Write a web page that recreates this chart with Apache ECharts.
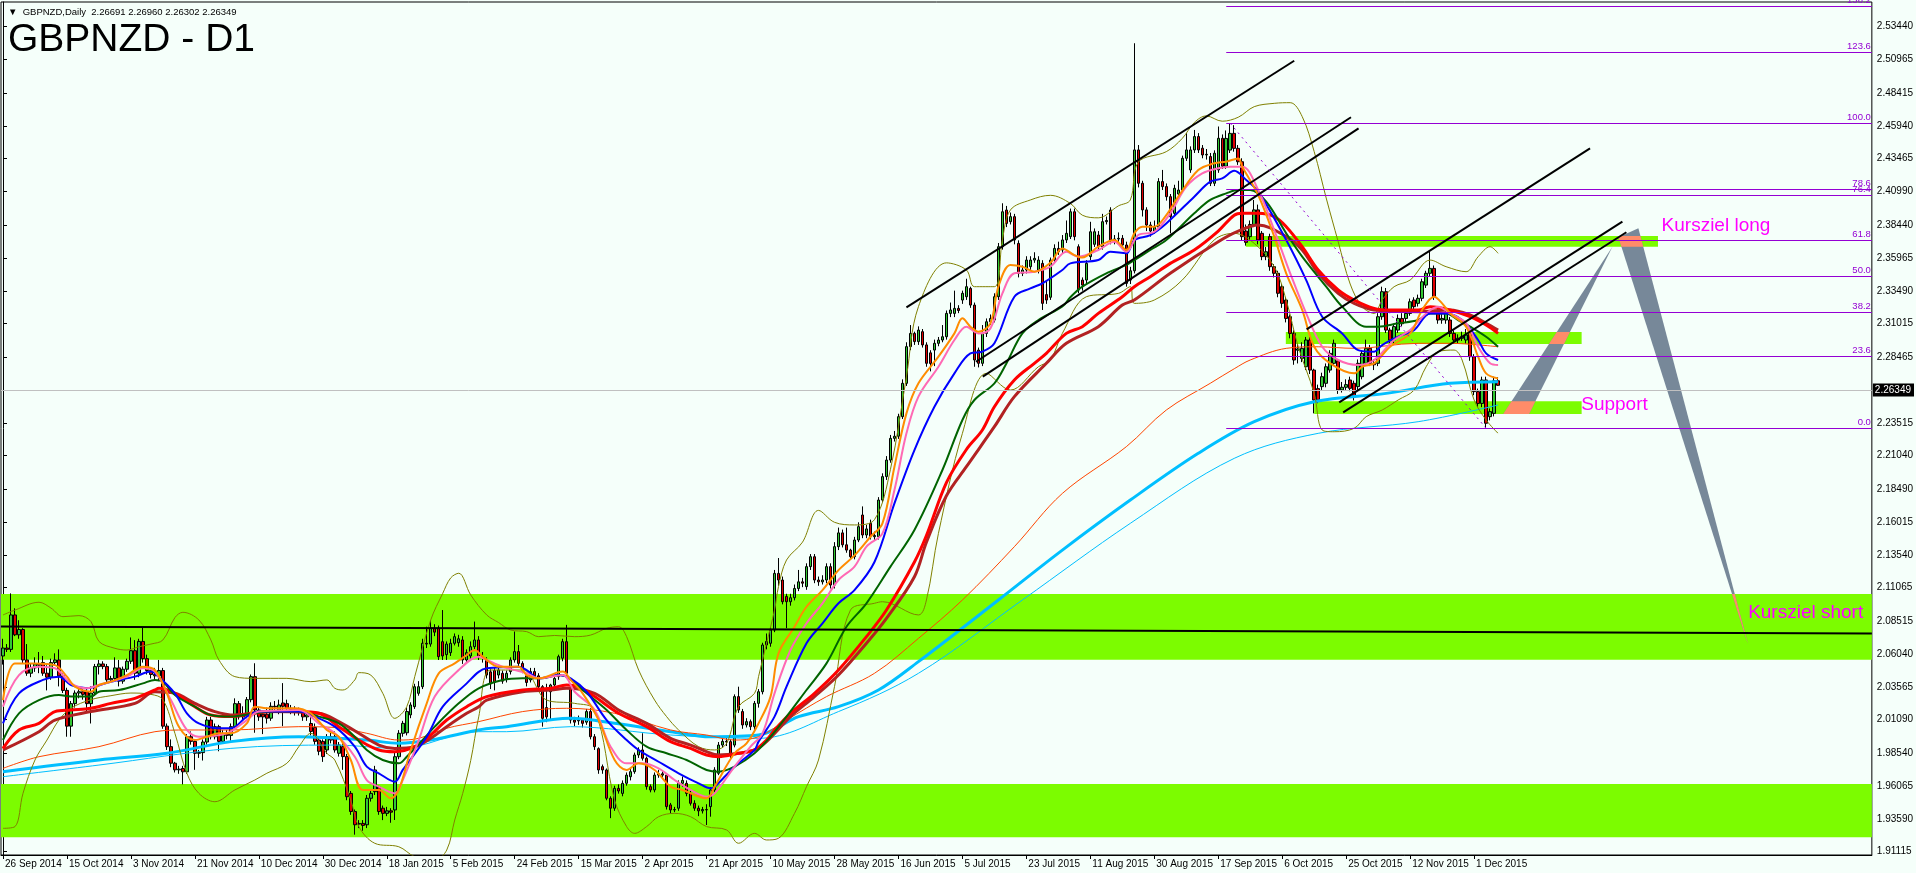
<!DOCTYPE html>
<html>
<head>
<meta charset="utf-8">
<script src="https://cdn.jsdelivr.net/npm/echarts@6/dist/echarts.min.js"></script>
<style>
html,body{margin:0;padding:0;background:#F5FFFA;}
#c{width:1916px;height:873px;}
</style>
</head>
<body>
<div id="c"></div>
<script>
// ---------- DATA ----------
const dateLabels = ['26 Sep 2014','15 Oct 2014','3 Nov 2014','21 Nov 2014','10 Dec 2014','30 Dec 2014','18 Jan 2015','5 Feb 2015','24 Feb 2015','15 Mar 2015','2 Apr 2015','21 Apr 2015','10 May 2015','28 May 2015','16 Jun 2015','5 Jul 2015','23 Jul 2015','11 Aug 2015','30 Aug 2015','17 Sep 2015','6 Oct 2015','25 Oct 2015','12 Nov 2015','1 Dec 2015'];
const barsPerLabel = 16;
const slotCount = 468;

const yTicks = [2.53440,2.50965,2.48415,2.45940,2.43465,2.40990,2.38440,2.35965,2.33490,2.31015,2.28465,2.25990,2.23515,2.21040,2.18490,2.16015,2.13540,2.11065,2.08515,2.06040,2.03565,2.01090,1.98540,1.96065,1.93590,1.91115];
const yMin = 1.90865, yMax = 2.55306;

const opens = [
2.0590,2.0650,2.0640,2.0900,2.0750,2.0790,2.0560,2.0460,2.0500,2.0530,
2.0540,2.0460,2.0430,2.0540,2.0560,2.0440,2.0330,2.0060,2.0230,2.0310,
2.0320,2.0320,2.0230,2.0310,2.0510,2.0530,2.0510,2.0410,2.0420,2.0500,
2.0400,2.0490,2.0550,2.0630,2.0460,2.0700,2.0570,2.0480,2.0450,2.0440,
2.0480,2.0060,1.9905,1.9780,1.9730,1.9740,1.9715,1.9980,1.9945,1.9855,
1.9860,1.9940,2.0106,1.9980,2.0056,1.9945,2.0000,1.9990,2.0056,2.0230,
2.0130,2.0140,2.0260,2.0434,2.0182,2.0150,2.0150,2.0120,2.0210,2.0180,
2.0235,2.0230,2.0195,2.0185,2.0170,2.0170,2.0130,2.0080,2.0050,1.9955,
1.9945,1.9880,1.9980,1.9980,1.9855,1.9905,1.9830,1.9552,1.9415,1.9320,
1.9325,1.9315,1.9515,1.9565,1.9600,1.9440,1.9401,1.9420,1.9427,1.9829,
2.0006,2.0010,2.0145,2.0207,2.0308,2.0358,2.0686,2.0680,2.0800,2.0800,
2.0698,2.0600,2.0615,2.0686,2.0690,2.0711,2.0560,2.0590,2.0660,2.0711,
2.0585,2.0560,2.0470,2.0480,2.0446,2.0459,2.0420,2.0472,2.0560,2.0623,
2.0534,2.0440,2.0409,2.0472,2.0440,2.0358,2.0200,2.0320,2.0371,2.0434,
2.0573,2.0698,2.0350,2.0106,2.0100,2.0106,2.0090,2.0170,1.9980,1.9890,
1.9754,1.9729,1.9515,1.9440,1.9590,1.9552,1.9628,1.9678,1.9716,1.9842,
1.9880,1.9817,1.9603,1.9578,1.9690,1.9700,1.9690,1.9465,1.9427,1.9440,
1.9628,1.9628,1.9552,1.9477,1.9440,1.9420,1.9430,1.9452,1.9578,1.9704,
1.9917,1.9945,1.9943,1.9917,2.0283,2.0170,2.0069,2.0094,2.0056,2.0232,
2.0320,2.0673,2.0686,2.0786,2.1214,2.1164,2.1040,2.1000,2.1030,2.1100,
2.1150,2.1114,2.1265,2.1340,2.1164,2.1150,2.1164,2.1265,2.1126,2.1416,
2.1520,2.1430,2.1390,2.1340,2.1466,2.1655,2.1504,2.1592,2.1491,2.1491,
2.1768,2.1945,2.2070,2.2234,2.2250,2.2398,2.2650,2.2927,2.3027,2.2965,
2.3040,2.2940,2.2880,2.2901,2.2952,2.2977,2.3002,2.3178,2.3178,2.3216,
2.3279,2.3304,2.3367,2.3241,2.2901,2.2801,2.3027,2.3115,2.3128,2.3304,
2.3682,2.3959,2.3871,2.3909,2.3707,2.3481,2.3506,2.3531,2.3581,2.3506,
2.3556,2.3320,2.3300,2.3581,2.3669,2.3657,2.3733,2.3758,2.3946,2.3682,
2.3430,2.3430,2.3607,2.3700,2.3770,2.3682,2.3871,2.3959,2.3733,2.3740,
2.3745,2.3695,2.3430,2.3500,2.4413,2.4161,2.3960,2.3846,2.3800,2.3830,
2.4174,2.4136,2.4060,2.3934,2.4080,2.4110,2.4350,2.4262,2.4413,2.4514,
2.4426,2.4375,2.4363,2.4161,2.4262,2.4501,2.4290,2.4412,2.4538,2.4425,
2.4324,2.3800,2.3758,2.3850,2.3960,2.3783,2.3607,2.3758,2.3531,2.3481,
2.3380,2.3279,2.3153,2.3027,2.2900,2.2838,2.2775,2.2977,2.2750,2.2610,
2.2625,2.2650,2.2750,2.2801,2.2820,2.2600,2.2620,2.2675,2.2650,2.2625,
2.2700,2.2801,2.2914,2.2801,2.2801,2.3153,2.3342,2.3052,2.2977,2.3052,
2.3140,2.3140,2.3178,2.3279,2.3254,2.3292,2.3392,2.3481,2.3518,2.3200,
2.3128,2.3128,2.3128,2.3027,2.2977,2.2990,2.2977,2.3027,2.2851,2.2587,
2.2498,2.2675,2.2398,2.2423,2.26691];

const highs = [
2.0720,2.0680,2.1063,2.0950,2.0860,2.0800,2.0680,2.0530,2.0580,2.0620,
2.0590,2.0520,2.0570,2.0610,2.0640,2.0460,2.0350,2.0250,2.0330,2.0350,
2.0340,2.0340,2.0360,2.0530,2.0560,2.0550,2.0530,2.0440,2.0580,2.0560,
2.0510,2.0570,2.0730,2.0710,2.0720,2.0810,2.0600,2.0500,2.0500,2.0560,
2.0500,2.0080,1.9960,1.9790,1.9760,1.9760,2.0000,2.0020,1.9960,1.9880,
1.9960,2.0130,2.0130,2.0080,2.0070,2.0030,2.0030,2.0080,2.0270,2.0250,
2.0210,2.0280,2.0450,2.0535,2.0200,2.0170,2.0200,2.0240,2.0250,2.0260,
2.0385,2.0260,2.0220,2.0210,2.0200,2.0190,2.0170,2.0150,2.0080,1.9980,
1.9960,2.0000,2.0010,2.0020,1.9940,1.9930,1.9850,1.9570,1.9430,1.9350,
1.9350,1.9540,1.9580,1.9760,1.9610,1.9460,1.9450,1.9440,1.9860,2.0030,
2.0100,2.0200,2.0240,2.0380,2.0400,2.0720,2.0811,2.0860,2.0830,2.0820,
2.0937,2.0700,2.0720,2.0760,2.0750,2.0740,2.0640,2.0700,2.0850,2.0740,
2.0620,2.0580,2.0490,2.0500,2.0510,2.0480,2.0480,2.0580,2.0775,2.0673,
2.0550,2.0460,2.0500,2.0500,2.0460,2.0370,2.0380,2.0380,2.0440,2.0600,
2.0720,2.0825,2.0370,2.0130,2.0140,2.0120,2.0190,2.0195,2.0000,1.9900,
1.9770,1.9740,1.9530,1.9610,1.9620,1.9650,1.9710,1.9740,1.9860,1.9900,
2.0006,1.9830,1.9620,1.9710,1.9730,1.9720,1.9700,1.9480,1.9450,1.9650,
1.9680,1.9650,1.9570,1.9500,1.9460,1.9450,1.9470,1.9600,1.9750,1.9940,
1.9980,1.9970,1.9960,2.0300,2.0358,2.0190,2.0120,2.0110,2.0250,2.0340,
2.0690,2.0760,2.0810,2.1240,2.1330,2.1190,2.1060,2.1060,2.1130,2.1240,
2.1180,2.1290,2.1360,2.1360,2.1190,2.1200,2.1290,2.1290,2.1450,2.1560,
2.1545,2.1560,2.1400,2.1490,2.1600,2.1720,2.1580,2.1620,2.1530,2.1790,
2.1970,2.2100,2.2260,2.2290,2.2420,2.2680,2.2960,2.3090,2.3040,2.3080,
2.3060,2.2960,2.2900,2.2980,2.3000,2.3090,2.3200,2.3260,2.3350,2.3240,
2.3350,2.3440,2.3380,2.3260,2.2920,2.3090,2.3140,2.3170,2.3330,2.3710,
2.4010,2.3990,2.3940,2.3930,2.3730,2.3540,2.3610,2.3610,2.3640,2.3610,
2.3580,2.3430,2.3600,2.3700,2.3720,2.3770,2.3880,2.3970,2.3970,2.3700,
2.3450,2.3580,2.3870,2.3820,2.3800,2.3930,2.3910,2.3980,2.3770,2.3790,
2.3770,2.3720,2.3530,2.5219,2.4450,2.4180,2.3980,2.3870,2.3880,2.4200,
2.4262,2.4160,2.4080,2.4150,2.4180,2.4370,2.4540,2.4440,2.4564,2.4540,
2.4450,2.4420,2.4390,2.4410,2.4590,2.4530,2.4560,2.4614,2.4600,2.4450,
2.4350,2.3850,2.3880,2.4035,2.4000,2.3800,2.3680,2.3780,2.3550,2.3500,
2.3400,2.3300,2.3170,2.3050,2.2950,2.2960,2.3000,2.3000,2.2760,2.2640,
2.2730,2.2800,2.2900,2.2980,2.2830,2.2660,2.2680,2.2700,2.2670,2.2830,
2.2900,2.2980,2.2940,2.2830,2.3180,2.3380,2.3370,2.3070,2.3100,2.3170,
2.3180,2.3200,2.3290,2.3300,2.3320,2.3440,2.3500,2.3657,2.3540,2.3220,
2.3180,2.3200,2.3150,2.3050,2.3020,2.3040,2.3060,2.3050,2.2870,2.2610,
2.2700,2.2700,2.2460,2.2700,2.26960];

const lows = [
2.0525,2.0620,2.0620,2.0740,2.0720,2.0530,2.0440,2.0430,2.0470,2.0460,
2.0440,2.0330,2.0410,2.0520,2.0360,2.0310,1.9980,1.9980,2.0200,2.0270,
2.0260,2.0170,2.0080,2.0290,2.0450,2.0490,2.0390,2.0390,2.0400,2.0360,
2.0380,2.0470,2.0530,2.0410,2.0430,2.0540,2.0450,2.0420,2.0410,2.0400,
2.0040,1.9880,1.9750,1.9710,1.9700,1.9620,1.9700,1.9920,1.9730,1.9820,
1.9800,1.9920,1.9960,1.9960,1.9870,1.9930,1.9960,1.9950,2.0040,2.0110,
2.0100,2.0120,2.0240,2.0010,2.0100,2.0000,2.0080,2.0100,2.0180,2.0150,
2.0060,2.0170,2.0150,2.0140,2.0140,2.0100,2.0100,1.9990,1.9920,1.9840,
1.9790,1.9850,1.9930,1.9860,1.9830,1.9730,1.9500,1.9390,1.9240,1.9290,
1.9270,1.9290,1.9490,1.9540,1.9390,1.9350,1.9380,1.9330,1.9351,1.9810,
1.9980,1.9990,2.0120,2.0190,2.0290,2.0340,2.0650,2.0660,2.0740,2.0560,
2.0560,2.0560,2.0590,2.0670,2.0660,2.0530,2.0540,2.0570,2.0640,2.0560,
2.0540,2.0420,2.0340,2.0330,2.0420,2.0380,2.0390,2.0450,2.0540,2.0510,
2.0460,2.0360,2.0390,2.0420,2.0330,2.0056,2.0090,2.0110,2.0350,2.0410,
2.0550,2.0440,2.0080,2.0060,2.0070,2.0050,2.0070,1.9960,1.9880,1.9700,
1.9700,1.9500,1.9365,1.9420,1.9550,1.9530,1.9610,1.9650,1.9700,1.9820,
1.9800,1.9580,1.9560,1.9560,1.9670,1.9660,1.9430,1.9400,1.9410,1.9420,
1.9600,1.9530,1.9460,1.9420,1.9380,1.9400,1.9313,1.9376,1.9560,1.9690,
1.9900,1.9910,1.9820,1.9900,2.0160,2.0040,2.0050,2.0030,2.0030,2.0200,
2.0300,2.0640,2.0660,2.0770,2.1120,2.0980,2.0800,2.0970,2.1010,2.1080,
2.1110,2.1090,2.1240,2.1140,2.1120,2.1130,2.1140,2.1100,2.1100,2.1390,
2.1410,2.1370,2.1320,2.1320,2.1450,2.1480,2.1480,2.1470,2.1460,2.1470,
2.1750,2.1920,2.2050,2.2210,2.2230,2.2380,2.2630,2.2900,2.2940,2.2940,
2.2920,2.2775,2.2740,2.2780,2.2930,2.2960,2.2980,2.3150,2.3150,2.3180,
2.3250,2.3280,2.3220,2.2775,2.2770,2.2780,2.3000,2.3090,2.3110,2.3280,
2.3660,2.3830,2.3850,2.3700,2.3450,2.3460,2.3480,2.3500,2.3560,2.3480,
2.3204,2.3250,2.3280,2.3560,2.3620,2.3630,2.3710,2.3740,2.3730,2.3330,
2.3350,2.3400,2.3580,2.3680,2.3650,2.3660,2.3850,2.3700,2.3700,2.3710,
2.3670,2.3380,2.3400,2.3480,2.4130,2.3910,2.3800,2.3758,2.3780,2.3810,
2.4110,2.4030,2.3783,2.3910,2.4060,2.4090,2.4330,2.4240,2.4390,2.4390,
2.4350,2.4340,2.4140,2.4140,2.4240,2.4270,2.4270,2.4390,2.4400,2.4300,
2.3730,2.3690,2.3730,2.3830,2.3700,2.3580,2.3580,2.3500,2.3450,2.3300,
2.3220,2.3110,2.2990,2.2790,2.2800,2.2810,2.2750,2.2720,2.2423,2.2500,
2.2600,2.2620,2.2730,2.2780,2.2570,2.2580,2.2600,2.2590,2.2520,2.2600,
2.2680,2.2780,2.2780,2.2750,2.2780,2.3130,2.3030,2.2950,2.2950,2.3030,
2.3080,2.3110,2.3160,2.3200,2.3230,2.3270,2.3370,2.3460,2.3280,2.3100,
2.3100,2.3100,2.3000,2.2950,2.2950,2.2970,2.2950,2.2820,2.2560,2.2470,
2.2470,2.2310,2.2370,2.2400,2.26302];

const closes = [
2.0650,2.0640,2.0900,2.0750,2.0790,2.0560,2.0460,2.0500,2.0530,2.0520,
2.0460,2.0430,2.0540,2.0560,2.0440,2.0330,2.0060,2.0230,2.0310,2.0320,
2.0300,2.0230,2.0310,2.0510,2.0530,2.0510,2.0410,2.0420,2.0500,2.0400,
2.0490,2.0550,2.0630,2.0460,2.0700,2.0570,2.0480,2.0450,2.0440,2.0480,
2.0060,1.9905,1.9780,1.9730,1.9735,1.9715,1.9980,1.9945,1.9855,1.9860,
1.9940,2.0106,1.9980,2.0056,1.9945,2.0000,1.9990,2.0056,2.0230,2.0130,
2.0140,2.0260,2.0434,2.0182,2.0130,2.0130,2.0120,2.0210,2.0205,2.0220,
2.0210,2.0195,2.0185,2.0170,2.0175,2.0130,2.0145,2.0020,1.9945,1.9870,
1.9830,1.9980,1.9955,1.9880,1.9918,1.9830,1.9527,1.9415,1.9315,1.9325,
1.9310,1.9515,1.9552,1.9729,1.9415,1.9401,1.9420,1.9410,1.9829,2.0006,
2.0081,2.0170,2.0220,2.0358,2.0358,2.0686,2.0680,2.0800,2.0770,2.0585,
2.0590,2.0680,2.0686,2.0736,2.0720,2.0560,2.0615,2.0660,2.0711,2.0585,
2.0580,2.0446,2.0380,2.0390,2.0484,2.0400,2.0459,2.0560,2.0623,2.0534,
2.0484,2.0390,2.0472,2.0440,2.0358,2.0119,2.0130,2.0371,2.0420,2.0585,
2.0698,2.0459,2.0106,2.0090,2.0106,2.0081,2.0170,1.9980,1.9905,1.9729,
1.9729,1.9515,1.9440,1.9590,1.9570,1.9628,1.9690,1.9716,1.9842,1.9880,
1.9817,1.9603,1.9578,1.9690,1.9700,1.9690,1.9452,1.9427,1.9430,1.9628,
1.9650,1.9552,1.9477,1.9440,1.9420,1.9430,1.9427,1.9578,1.9729,1.9917,
1.9945,1.9940,1.9842,2.0283,2.0182,2.0069,2.0094,2.0056,2.0232,2.0320,
2.0673,2.0700,2.0786,2.1214,2.1164,2.1000,2.1000,2.1030,2.1100,2.1150,
2.1140,2.1265,2.1340,2.1164,2.1150,2.1164,2.1265,2.1126,2.1416,2.1520,
2.1430,2.1390,2.1340,2.1466,2.1567,2.1504,2.1550,2.1491,2.1500,2.1768,
2.1945,2.2070,2.2234,2.2250,2.2398,2.2650,2.2927,2.3027,2.2965,2.3052,
2.2940,2.2801,2.2800,2.2952,2.2977,2.3002,2.3178,2.3204,2.3216,2.3200,
2.3330,2.3380,2.3241,2.2826,2.2801,2.3027,2.3115,2.3140,2.3304,2.3682,
2.3946,2.3858,2.3909,2.3733,2.3481,2.3506,2.3581,2.3581,2.3594,2.3581,
2.3254,2.3279,2.3581,2.3669,2.3644,2.3733,2.3783,2.3946,2.3758,2.3355,
2.3392,2.3556,2.3795,2.3795,2.3682,2.3871,2.3880,2.3733,2.3740,2.3745,
2.3695,2.3405,2.3500,2.4413,2.4161,2.3960,2.3846,2.3800,2.3830,2.4174,
2.4136,2.4060,2.3909,2.4123,2.4110,2.4350,2.4413,2.4413,2.4514,2.4413,
2.4375,2.4380,2.4161,2.4388,2.4501,2.4290,2.4500,2.4538,2.4425,2.4324,
2.3758,2.3715,2.3850,2.3960,2.3733,2.3607,2.3644,2.3531,2.3481,2.3330,
2.3254,2.3140,2.3027,2.2826,2.2910,2.2914,2.2977,2.2750,2.2524,2.2524,
2.2700,2.2775,2.2876,2.2952,2.2600,2.2620,2.2640,2.2612,2.2550,2.2801,
2.2876,2.2914,2.2801,2.2790,2.3153,2.3342,2.3052,2.2977,2.3078,2.3140,
2.3100,2.3178,2.3266,2.3229,2.3292,2.3417,2.3481,2.3518,2.3304,2.3128,
2.3140,2.3178,2.3027,2.2977,2.2990,2.3002,2.3015,2.2851,2.2587,2.2498,
2.2675,2.2348,2.2436,2.2669,2.26349];

const lastPrice = 2.26349;

// indicator lines: [barIndex, price]
const maBlue = [[0,2.0081],[4,2.0308],[10,2.0409],[14,2.0434],[17,2.0371],[21,2.0346],[23,2.0358],[27,2.0396],[33,2.0434],[37,2.0472],[38,2.0459],[43,2.0308],[46,2.0157],[49,2.0081],[54,2.0044],[57,2.0044],[61,2.0132],[64,2.0170],[74,2.0170],[78,2.0132],[83,2.0056],[88,1.9905],[91,1.9754],[94,1.9704],[98,1.9640],[100,1.9729],[106,1.9980],[110,2.0207],[116,2.0383],[119,2.0470],[121,2.0497],[129,2.0509],[131,2.0484],[134,2.0421],[139,2.0447],[142,2.0421],[146,2.0320],[151,2.0106],[156,1.9955],[159,1.9880],[164,1.9791],[169,1.9704],[174,1.9628],[177,1.9590],[178,1.9600],[183,1.9754],[188,1.9880],[189,1.9943],[193,2.0132],[196,2.0358],[201,2.0686],[205,2.0837],[209,2.0988],[213,2.1088],[218,2.1300],[223,2.1743],[228,2.2146],[233,2.2473],[238,2.2725],[242,2.2876],[245,2.2889],[248,2.2952],[253,2.3304],[257,2.3367],[260,2.3405],[265,2.3506],[267,2.3556],[274,2.3581],[277,2.3644],[281,2.3632],[283,2.3732],[287,2.3770],[291,2.3858],[298,2.4060],[302,2.4173],[305,2.4198],[308,2.4255],[311,2.4186],[314,2.4098],[321,2.3732],[326,2.3430],[330,2.3153],[335,2.3027],[339,2.2901],[343,2.2889],[345,2.2939],[349,2.3002],[353,2.3052],[357,2.3178],[361,2.3178],[365,2.3128],[369,2.2977],[371,2.2876],[374,2.2826]];

const maOrange = [[0,2.0257],[3,2.0534],[8,2.0534],[13,2.0521],[16,2.0434],[18,2.0358],[22,2.0320],[24,2.0371],[27,2.0396],[31,2.0446],[35,2.0509],[38,2.0484],[41,2.0308],[44,2.0056],[48,1.9955],[51,1.9980],[54,2.0006],[57,2.0006],[61,2.0081],[63,2.0207],[66,2.0195],[73,2.0195],[77,2.0157],[81,2.0031],[84,1.9980],[87,1.9804],[90,1.9578],[94,1.9578],[97,1.9515],[99,1.9578],[102,1.9880],[106,2.0232],[109,2.0459],[113,2.0534],[116,2.0597],[118,2.0635],[120,2.0585],[124,2.0509],[129,2.0509],[131,2.0446],[134,2.0421],[140,2.0472],[142,2.0409],[145,2.0308],[149,2.0106],[153,1.9804],[156,1.9729],[159,1.9779],[163,1.9729],[167,1.9603],[170,1.9578],[173,1.9540],[176,1.9515],[178,1.9603],[183,1.9855],[186,1.9930],[189,2.0081],[192,2.0283],[194,2.0610],[198,2.0811],[201,2.0962],[205,2.1088],[209,2.1239],[213,2.1350],[217,2.1491],[220,2.1592],[223,2.2020],[226,2.2423],[229,2.2650],[234,2.2851],[238,2.3027],[240,2.3141],[242,2.3078],[244,2.3040],[247,2.3103],[249,2.3380],[252,2.3544],[255,2.3531],[258,2.3493],[262,2.3560],[265,2.3669],[268,2.3619],[270,2.3600],[274,2.3682],[278,2.3733],[281,2.3657],[283,2.3783],[285,2.3833],[288,2.3833],[291,2.3921],[294,2.4060],[299,2.4261],[303,2.4312],[306,2.4324],[309,2.4349],[310,2.4286],[314,2.4072],[318,2.3758],[321,2.3481],[325,2.3204],[328,2.2926],[332,2.2801],[338,2.2725],[340,2.2775],[343,2.2801],[347,2.2926],[352,2.3027],[355,2.3204],[358,2.3304],[360,2.3254],[362,2.3178],[366,2.3078],[369,2.2851],[371,2.2725],[374,2.2687]];

const maPink = [[0,2.0207],[4,2.0446],[9,2.0509],[13,2.0497],[17,2.0383],[21,2.0346],[24,2.0371],[31,2.0434],[35,2.0497],[38,2.0472],[42,2.0257],[46,2.0031],[49,1.9980],[56,2.0006],[61,2.0106],[64,2.0170],[74,2.0182],[79,2.0081],[83,2.0006],[88,1.9829],[91,1.9653],[94,1.9603],[98,1.9552],[100,1.9653],[104,1.9955],[108,2.0283],[114,2.0484],[119,2.0585],[121,2.0560],[125,2.0509],[131,2.0459],[134,2.0421],[140,2.0447],[143,2.0320],[148,2.0182],[152,1.9905],[156,1.9779],[160,1.9779],[164,1.9741],[168,1.9653],[172,1.9578],[176,1.9527],[178,1.9552],[183,1.9754],[187,1.9905],[190,2.0006],[193,2.0308],[197,2.0635],[201,2.0837],[205,2.0988],[209,2.1164],[213,2.1265],[216,2.1416],[220,2.1516],[223,2.1844],[226,2.2272],[229,2.2549],[234,2.2775],[238,2.2977],[241,2.3078],[244,2.3027],[247,2.3065],[250,2.3329],[253,2.3481],[258,2.3493],[262,2.3531],[266,2.3644],[269,2.3607],[274,2.3657],[278,2.3720],[281,2.3644],[284,2.3770],[288,2.3795],[292,2.3934],[296,2.4135],[300,2.4236],[304,2.4274],[307,2.4286],[310,2.4286],[314,2.4110],[318,2.3808],[322,2.3481],[326,2.3178],[330,2.2926],[334,2.2826],[339,2.2788],[343,2.2826],[348,2.2977],[352,2.3052],[356,2.3178],[359,2.3229],[362,2.3178],[366,2.3103],[369,2.2926],[372,2.2801],[374,2.2788]];

const maGreen = [[0,1.9955],[4,2.0157],[9,2.0257],[14,2.0295],[17,2.0283],[22,2.0283],[24,2.0320],[29,2.0333],[35,2.0383],[38,2.0409],[40,2.0396],[43,2.0295],[48,2.0207],[52,2.0144],[57,2.0132],[63,2.0157],[68,2.0170],[74,2.0170],[79,2.0132],[84,2.0081],[88,1.9980],[91,1.9880],[95,1.9804],[99,1.9779],[101,1.9829],[105,1.9955],[108,2.0056],[114,2.0232],[119,2.0346],[125,2.0409],[130,2.0421],[135,2.0421],[139,2.0447],[141,2.0434],[146,2.0308],[151,2.0182],[156,2.0031],[161,1.9905],[166,1.9855],[171,1.9804],[176,1.9729],[179,1.9716],[183,1.9754],[188,1.9855],[192,1.9980],[196,2.0132],[201,2.0333],[206,2.0534],[211,2.0811],[216,2.0988],[222,2.1265],[228,2.1542],[235,2.1995],[240,2.2373],[243,2.2524],[248,2.2650],[251,2.2800],[255,2.3027],[259,2.3128],[265,2.3230],[267,2.3300],[270,2.3380],[276,2.3481],[281,2.3544],[283,2.3581],[287,2.3657],[291,2.3732],[298,2.3934],[302,2.4035],[306,2.4085],[309,2.4110],[312,2.4110],[316,2.4022],[321,2.3783],[325,2.3607],[331,2.3380],[335,2.3229],[341,2.3078],[344,2.3078],[349,2.3103],[354,2.3128],[357,2.3178],[361,2.3178],[364,2.3128],[367,2.3078],[371,2.3002],[374,2.2926]];

const maRed = [[0,1.9892],[4,2.0031],[9,2.0081],[13,2.0170],[17,2.0182],[22,2.0195],[27,2.0232],[33,2.0270],[38,2.0333],[39,2.0346],[43,2.0308],[48,2.0207],[52,2.0144],[57,2.0132],[63,2.0157],[68,2.0170],[74,2.0170],[79,2.0157],[84,2.0056],[89,1.9955],[94,1.9880],[98,1.9867],[103,1.9905],[107,1.9993],[111,2.0106],[116,2.0207],[121,2.0283],[130,2.0333],[137,2.0346],[141,2.0371],[144,2.0358],[148,2.0283],[154,2.0157],[161,2.0056],[167,1.9943],[172,1.9892],[176,1.9842],[179,1.9829],[184,1.9855],[188,1.9880],[191,1.9955],[193,2.0031],[197,2.0157],[203,2.0308],[209,2.0484],[216,2.0736],[221,2.0937],[228,2.1300],[231,2.1500],[236,2.1900],[241,2.2150],[245,2.2297],[248,2.2473],[253,2.2675],[258,2.2801],[261,2.2876],[266,2.3027],[270,2.3078],[274,2.3178],[280,2.3304],[283,2.3380],[287,2.3455],[292,2.3556],[298,2.3657],[304,2.3800],[308,2.3920],[310,2.3934],[314,2.3934],[318,2.3909],[321,2.3833],[325,2.3682],[329,2.3506],[334,2.3355],[338,2.3279],[343,2.3216],[347,2.3204],[354,2.3204],[357,2.3229],[362,2.3204],[367,2.3153],[371,2.3090],[374,2.3027]];

const maBrown = [[0,1.9880],[9,2.0018],[13,2.0106],[22,2.0170],[33,2.0232],[38,2.0320],[43,2.0308],[48,2.0232],[53,2.0170],[58,2.0144],[66,2.0170],[79,2.0157],[84,2.0094],[89,2.0006],[94,1.9917],[98,1.9892],[103,1.9905],[107,1.9968],[111,2.0056],[116,2.0157],[119,2.0207],[121,2.0257],[130,2.0320],[137,2.0333],[141,2.0346],[148,2.0308],[154,2.0182],[161,2.0081],[167,1.9968],[172,1.9917],[176,1.9867],[179,1.9842],[184,1.9855],[188,1.9880],[191,1.9943],[197,2.0132],[203,2.0283],[209,2.0446],[216,2.0686],[221,2.0874],[228,2.1189],[231,2.1450],[236,2.1800],[241,2.2020],[248,2.2322],[253,2.2549],[261,2.2801],[266,2.2952],[274,2.3078],[280,2.3241],[283,2.3279],[292,2.3481],[304,2.3720],[309,2.3800],[314,2.3846],[321,2.3758],[325,2.3657],[329,2.3481],[334,2.3329],[338,2.3254],[343,2.3204],[354,2.3191],[362,2.3204],[367,2.3166],[371,2.3103],[374,2.3052]];

const maThinOrange = [[0,1.9741],[9,1.9829],[24,1.9905],[38,2.0018],[46,2.0031],[57,2.0031],[74,2.0056],[83,2.0050],[91,2.0006],[99,1.9955],[104,1.9968],[111,2.0044],[119,2.0094],[130,2.0170],[141,2.0195],[153,2.0157],[167,2.0031],[176,1.9993],[183,1.9955],[189,1.9980],[196,2.0106],[206,2.0283],[218,2.0459],[229,2.0723],[240,2.1013],[253,2.1416],[265,2.1818],[281,2.2171],[291,2.2448],[302,2.2650],[308,2.2760],[312,2.2826],[321,2.2914],[329,2.2926],[338,2.2914],[354,2.2952],[362,2.2952],[374,2.2926]];

const maCyanThick = [[0,1.9716],[24,1.9804],[41,1.9855],[57,1.9943],[74,1.9980],[91,1.9955],[99,1.9930],[108,1.9960],[119,2.0031],[126,2.0056],[142,2.0119],[153,2.0081],[167,2.0018],[177,1.9980],[189,1.9993],[199,2.0132],[209,2.0207],[219,2.0333],[229,2.0547],[249,2.1013],[265,2.1390],[282,2.1768],[299,2.2121],[313,2.2360],[328,2.2511],[346,2.2574],[362,2.2650],[374,2.2662]];

const maCyanThin = [[0,1.9678],[24,1.9766],[57,1.9892],[83,1.9917],[99,1.9892],[119,2.0018],[126,2.0018],[142,2.0056],[167,1.9993],[189,1.9968],[209,2.0170],[229,2.0459],[255,2.1013],[282,2.1592],[308,2.2083],[329,2.2272],[354,2.2360],[374,2.2486]];

const bollUpper = [[0,2.0900],[3,2.0937],[9,2.0996],[12,2.0952],[15,2.0887],[19,2.0895],[22,2.0850],[24,2.0700],[28,2.0648],[31,2.0635],[34,2.0660],[37,2.0680],[40,2.0711],[43,2.0880],[45,2.0920],[49,2.0862],[52,2.0711],[54,2.0560],[58,2.0434],[63,2.0421],[71,2.0421],[77,2.0396],[81,2.0409],[83,2.0346],[85,2.0333],[88,2.0409],[89,2.0464],[92,2.0446],[95,2.0308],[98,2.0119],[101,2.0207],[103,2.0434],[107,2.0862],[110,2.1063],[112,2.1180],[114,2.1215],[117,2.1051],[121,2.0900],[124,2.0842],[127,2.0786],[131,2.0774],[134,2.0736],[138,2.0745],[143,2.0736],[147,2.0748],[151,2.0799],[154,2.0811],[156,2.0736],[159,2.0484],[163,2.0257],[166,2.0132],[169,2.0031],[174,1.9905],[178,1.9880],[181,1.9930],[184,2.0207],[188,2.0308],[189,2.0434],[191,2.0686],[193,2.0937],[194,2.1114],[196,2.1315],[200,2.1450],[204,2.1690],[208,2.1600],[213,2.1580],[218,2.1620],[222,2.2000],[226,2.2700],[229,2.3229],[236,2.3560],[241,2.3506],[243,2.3380],[248,2.3380],[250,2.3733],[252,2.3959],[257,2.4035],[262,2.4070],[267,2.4009],[270,2.3920],[274,2.3900],[279,2.3990],[282,2.4035],[284,2.4320],[291,2.4400],[295,2.4500],[298,2.4620],[301,2.4670],[305,2.4630],[309,2.4660],[313,2.4740],[318,2.4765],[322,2.4770],[325,2.4665],[328,2.4400],[331,2.4050],[334,2.3720],[337,2.3400],[340,2.3229],[343,2.3178],[345,2.3279],[348,2.3380],[352,2.3430],[357,2.3581],[361,2.3531],[366,2.3493],[369,2.3606],[372,2.3682],[374,2.3632]];

const bollLower = [[0,1.9288],[3,1.9301],[5,1.9552],[8,1.9804],[11,1.9955],[14,2.0106],[17,2.0195],[22,2.0260],[27,2.0290],[32,2.0310],[37,2.0300],[40,2.0260],[43,2.0006],[46,1.9704],[49,1.9552],[53,1.9489],[58,1.9578],[63,1.9653],[66,1.9704],[71,1.9779],[74,1.9905],[77,2.0006],[81,1.9855],[83,1.9804],[87,1.9502],[89,1.9301],[93,1.9175],[99,1.9149],[103,1.9074],[108,1.9049],[111,1.9124],[113,1.9351],[115,1.9552],[117,1.9800],[119,2.0130],[122,2.0484],[130,2.0484],[136,2.0257],[143,2.0232],[148,2.0182],[153,1.9502],[156,1.9301],[158,1.9250],[161,1.9301],[164,1.9376],[168,1.9401],[172,1.9376],[176,1.9301],[181,1.9276],[184,1.9175],[188,1.9250],[191,1.9200],[194,1.9213],[198,1.9401],[201,1.9603],[204,1.9804],[208,2.0358],[212,2.0937],[218,2.0988],[220,2.1000],[229,2.0900],[231,2.1013],[234,2.1516],[240,2.2272],[246,2.2725],[252,2.2599],[259,2.2775],[262,2.2826],[265,2.3027],[271,2.3304],[279,2.3329],[282,2.3380],[283,2.3254],[288,2.3279],[295,2.3430],[303,2.3733],[308,2.3783],[313,2.3707],[318,2.3531],[321,2.3279],[324,2.2926],[328,2.2574],[330,2.2297],[333,2.2284],[338,2.2310],[341,2.2398],[345,2.2448],[349,2.2524],[353,2.2599],[356,2.2775],[359,2.2889],[363,2.2901],[365,2.2826],[368,2.2524],[371,2.2373],[374,2.2272]];

// drawn objects (time index / price)
const trendFlat = [[-0.5,2.0813],[467.5,2.0760]];
const ch1Upper = [[226,2.3223],[323,2.5087]];
const ch1Mid = [[243.4,2.2813],[337.2,2.4660]];
const ch1Low = [[245.1,2.2700],[339.1,2.4576]];
const ch2Upper = [[326.1,2.3058],[397,2.4425]];
const ch2Mid = [[334.25,2.2506],[405.1,2.3871]];
const ch2Low = [[335.25,2.2431],[406.1,2.3791]];

const fibLevels = ['0.0','23.6','38.2','50.0','61.8','76.4','78.6','100.0','123.6','138.2'];
const fibPrices = [2.2310,2.2854,2.3186,2.3458,2.3730,2.4073,2.4116,2.4614,2.5151,2.5495];
const fibStartBar = 306, fibEndBar = 467.5;
const fibDiag = [[307,2.4614],[371,2.2310]];

const zoneX0 = [-0.5,-0.5,310.9,320.9,328.0];
const zoneX1 = [467.5,467.5,414.0,394.9,394.9];
const zoneTop = [2.1058,1.9623,2.3763,2.3038,2.2514];
const zoneBottom = [2.0562,1.9220,2.3682,2.2947,2.2418];

const arrowUp = [[375.3,2.2418],[381.75,2.2418],[402.6,2.3682]];
const arrowDown = [[404.1,2.3753],[409.1,2.3821],[436.5,2.0680]];

const noteTexts = ['Kursziel long','Support','Kursziel short'];
const noteBars = [414.9,394.8,436.55];
const notePrices = [2.3843,2.2490,2.0913];

// ---------- CHART ----------
const FONT = 'Liberation Sans';
const cats = Array.from({length: slotCount}, (_, i) => String(i));
const candleData = opens.map((o, i) => [o, closes[i], lows[i], highs[i]]);
const showIdx = (i) => i % barsPerLabel === 0 && i / barsPerLabel < dateLabels.length;

function clipToRect(poly, x0, y0, x1, y1) {
  const planes = [
    [p => p[0] >= x0, (a, b) => { const t = (x0 - a[0]) / (b[0] - a[0]); return [x0, a[1] + t * (b[1] - a[1])]; }],
    [p => p[0] <= x1, (a, b) => { const t = (x1 - a[0]) / (b[0] - a[0]); return [x1, a[1] + t * (b[1] - a[1])]; }],
    [p => p[1] >= y0, (a, b) => { const t = (y0 - a[1]) / (b[1] - a[1]); return [a[0] + t * (b[0] - a[0]), y0]; }],
    [p => p[1] <= y1, (a, b) => { const t = (y1 - a[1]) / (b[1] - a[1]); return [a[0] + t * (b[0] - a[0]), y1]; }]
  ];
  let out = poly;
  for (const [ins, inter] of planes) {
    const input = out; out = [];
    if (!input.length) break;
    for (let k = 0; k < input.length; k++) {
      const cur = input[k], prev = input[(k + input.length - 1) % input.length];
      if (ins(cur)) { if (!ins(prev)) out.push(inter(prev, cur)); out.push(cur); }
      else if (ins(prev)) out.push(inter(prev, cur));
    }
  }
  return out;
}

function mkLine(data, color, width, extra) {
  return Object.assign({
    type: 'line', xAxisIndex: 1, yAxisIndex: 0, data: data,
    showSymbol: false, symbol: 'none', smooth: 0.35,
    lineStyle: { color: color, width: width }, silent: true, animation: false, z: 4
  }, extra || {});
}

const chart = echarts.init(document.getElementById('c'), null, { renderer: 'canvas', width: 1916, height: 873 });

const option = {
  animation: false,
  backgroundColor: '#F5FFFA',
  grid: { left: 1, right: 43, top: 2, bottom: 18, show: true, borderColor: '#000', borderWidth: 1, backgroundColor: 'transparent' },
  xAxis: [
    {
      type: 'category', data: cats, boundaryGap: true,
      axisLine: { show: true, lineStyle: { color: '#000', width: 1 } },
      axisTick: { show: true, alignWithLabel: true, interval: (i) => showIdx(i), length: 4, lineStyle: { color: '#000' } },
      axisLabel: {
        interval: (i) => showIdx(i),
        formatter: (v, i) => dateLabels[i / barsPerLabel] || '',
        align: 'left', margin: 4, fontSize: 10, fontFamily: FONT, color: '#000', padding: [0, 0, 0, 2]
      },
      splitLine: { show: false }
    },
    { type: 'value', min: -0.5, max: slotCount - 0.5, show: false }
  ],
  yAxis: {
    type: 'value', position: 'right', min: yMin, max: yMax,
    splitLine: { show: false },
    axisLine: { show: true, lineStyle: { color: '#000' } },
    axisTick: { show: true, customValues: yTicks, length: 4, lineStyle: { color: '#000' } },
    axisLabel: { customValues: yTicks, formatter: (v) => v.toFixed(5), color: '#000', fontSize: 10, fontFamily: FONT, margin: 5 }
  },
  graphic: [
    { type: 'text', x: 8, y: 12, z: 100, style: { text: '\u25BC  GBPNZD,Daily  2.26691 2.26960 2.26302 2.26349', fontSize: 9.5, fontFamily: FONT, fill: '#000', verticalAlign: 'middle' } },
    { type: 'text', x: 8, y: 40.5, z: 100, style: { text: 'GBPNZD - D1', fontSize: 39, fontFamily: FONT, fill: '#000', verticalAlign: 'middle' } }
  ],
  series: [
    // zones
    {
      type: 'custom', xAxisIndex: 1, yAxisIndex: 0, silent: true, z: 1, animation: false,
      data: zoneX0.map((x, i) => [x, zoneX1[i], zoneTop[i], zoneBottom[i]]),
      renderItem: (params, api) => {
        const a = api.coord([api.value(0), api.value(2)]);
        const b = api.coord([api.value(1), api.value(3)]);
        const cs = params.coordSys;
        const shape = echarts.graphic.clipRectByRect(
          { x: a[0], y: a[1], width: b[0] - a[0], height: b[1] - a[1] },
          { x: cs.x, y: cs.y, width: cs.width, height: cs.height });
        return shape ? { type: 'rect', shape: shape, style: { fill: '#7CFC00' } } : null;
      }
    },
    // arrows
    {
      type: 'custom', xAxisIndex: 1, yAxisIndex: 0, silent: true, z: 2, animation: false,
      data: [arrowUp, arrowDown].map(t => [t[0][0], t[0][1], t[1][0], t[1][1], t[2][0], t[2][1]]),
      renderItem: (params, api) => {
        const pts = [0, 1, 2].map(k => api.coord([api.value(2 * k), api.value(2 * k + 1)]));
        const children = [{ type: 'polygon', shape: { points: pts }, style: { fill: '#778899' } }];
        for (let z = 0; z < zoneX0.length; z++) {
          const a = api.coord([zoneX0[z], zoneTop[z]]), b = api.coord([zoneX1[z], zoneBottom[z]]);
          const c = clipToRect(pts, Math.min(a[0], b[0]), Math.min(a[1], b[1]), Math.max(a[0], b[0]), Math.max(a[1], b[1]));
          if (c.length >= 3) children.push({ type: 'polygon', shape: { points: c }, style: { fill: '#FF8C69' } });
        }
        return { type: 'group', children: children };
      }
    },
    // candles
    {
      type: 'candlestick', xAxisIndex: 0, yAxisIndex: 0, data: candleData, barWidth: 3, z: 3, animation: false, silent: true,
      itemStyle: { color: '#32C832', color0: '#E00000', borderColor: '#000', borderColor0: '#000', borderWidth: 1 },
      markLine: {
        silent: true, symbol: ['none', 'none'], animation: false,
        lineStyle: { color: '#C0C0C0', width: 1, type: 'solid' },
        label: { show: true, position: 'end', formatter: lastPrice.toFixed(5), backgroundColor: '#000', color: '#fff', padding: [2, 3, 1, 2], fontSize: 10, fontFamily: FONT, distance: 1 },
        data: [{ yAxis: lastPrice }]
      }
    },
    // indicator lines
    mkLine(maCyanThin, '#00BFFF', 1),
    mkLine(maCyanThick, '#00BFFF', 3),
    mkLine(maThinOrange, '#FF4500', 1),
    mkLine(bollUpper, '#808000', 1),
    mkLine(bollLower, '#808000', 1),
    mkLine(maBrown, '#B22222', 3),
    mkLine(maRed, '#FF0000', 3),
    mkLine(maGreen, '#006400', 2),
    mkLine(maBlue, '#0000FF', 2),
    mkLine(maPink, '#FF69B4', 2),
    mkLine(maOrange, '#FF8C00', 2),
    // drawn lines
    mkLine(trendFlat, '#000', 2, { smooth: false, z: 5 }),
    mkLine(ch1Upper, '#000', 2, { smooth: false, z: 5 }),
    mkLine(ch1Mid, '#000', 2, { smooth: false, z: 5 }),
    mkLine(ch1Low, '#000', 2, { smooth: false, z: 5 }),
    mkLine(ch2Upper, '#000', 2, { smooth: false, z: 5 }),
    mkLine(ch2Mid, '#000', 2, { smooth: false, z: 5 }),
    mkLine(ch2Low, '#000', 2, { smooth: false, z: 5 }),
    // fibonacci
    mkLine(fibDiag, '#9400D3', 1, {
      smooth: false, z: 5,
      lineStyle: { color: '#9400D3', width: 1, type: [2, 4] },
      markLine: {
        silent: true, symbol: ['none', 'none'], animation: false,
        lineStyle: { color: '#9400D3', width: 1, type: 'solid' },
        label: { show: true, position: 'insideEndTop', color: '#9400D3', fontSize: 9.5, fontFamily: FONT, distance: 1 },
        data: fibLevels.map((lv, k) => [
          { coord: [fibStartBar, fibPrices[k]], label: { formatter: lv } },
          { coord: [fibEndBar, fibPrices[k]] }
        ])
      }
    }),
    // text notes
    {
      type: 'custom', xAxisIndex: 1, yAxisIndex: 0, silent: true, z: 6, clip: false, animation: false,
      data: noteBars.map((b, i) => [b, notePrices[i], i]),
      renderItem: (params, api) => {
        const p = api.coord([api.value(0), api.value(1)]);
        return { type: 'text', x: p[0], y: p[1], style: { text: noteTexts[api.value(2)], fill: '#FF00FF', fontSize: 19, fontFamily: FONT, verticalAlign: 'middle', align: 'left' } };
      }
    }
  ]
};
chart.setOption(option);
</script>
</body>
</html>
